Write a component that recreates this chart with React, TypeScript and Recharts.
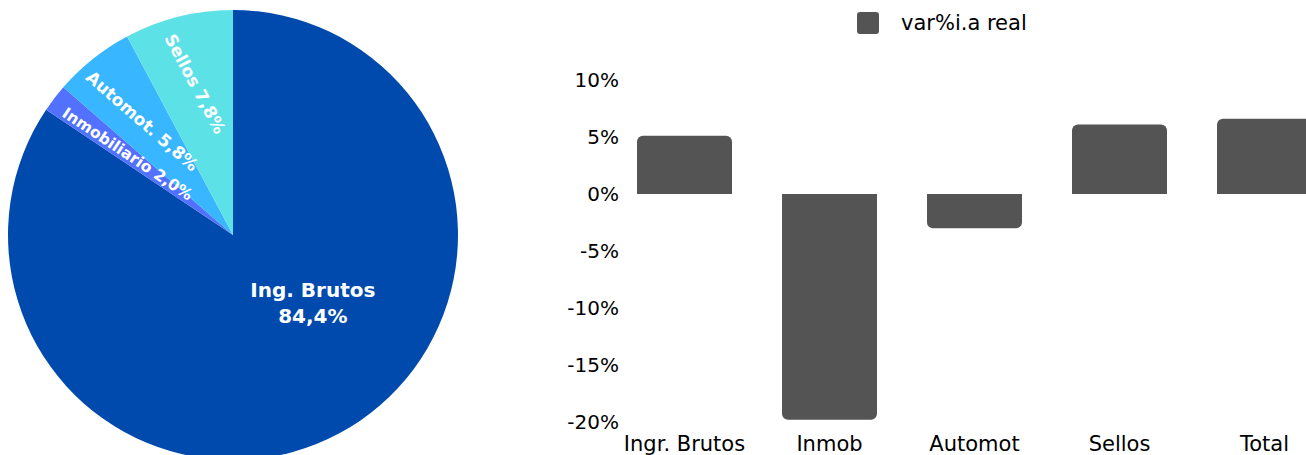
import React from 'react';
import { PieChart, Pie, Cell, BarChart, Bar, XAxis, YAxis, Legend } from 'recharts';

const pieNames = ['Ing. Brutos', 'Inmobiliario', 'Automot.', 'Sellos'];
const pieShares = [84.4, 2.0, 5.8, 7.8];
const pieColors = ['#004aad', '#5271ff', '#38b6ff', '#5ce1e6'];

const categories = ['Ingr. Brutos', 'Inmob', 'Automot', 'Sellos', 'Total'];
const varReal = [5.1, -19.8, -3.0, 6.1, 6.6];
const yTicks = [-20, -15, -10, -5, 0, 5, 10];

const pieData = pieNames.map((name, i) => ({ name, value: pieShares[i] }));
const barData = categories.map((name, i) => ({ name, value: varReal[i] }));

const FONT = '"DejaVu Sans", sans-serif';
const RAD = Math.PI / 180;

const fmtPct = (v: number) => v.toFixed(1).replace('.', ',') + '%';

const renderPieLabel = (props: any) => {
    const { cx, cy, outerRadius, midAngle, startAngle, index, name, value } = props;
    if (index === 0) {
        const x = cx + outerRadius * 0.355;
        const y = cy + outerRadius * 0.276;
        return (
            <text x={x} y={y} textAnchor="middle" fill="#fff" fontSize={20} fontWeight={700} fontFamily={FONT}>
                <tspan x={x} dy={0}>{name}</tspan>
                <tspan x={x} dy={26}>{fmtPct(value)}</tspan>
            </text>
        );
    }
    // thin slices: text runs from the rim toward the centre
    const label = `${name} ${fmtPct(value)}`;
    const fontSize = value < 3 ? 15.5 : 17;
    const estLen = fontSize * 0.6 * label.length;
    const r = outerRadius - 13 - estLen / 2;
    const x = cx + r * Math.cos(-midAngle * RAD);
    const y = cy + r * Math.sin(-midAngle * RAD);
    const rot = (((180 - startAngle) % 360) + 360) % 360;
    return (
        <text
            x={x}
            y={y}
            textAnchor="middle"
            dominantBaseline="central"
            transform={`rotate(${rot}, ${x}, ${y})`}
            fill="#fff"
            fontSize={fontSize}
            fontWeight={700}
            fontFamily={FONT}
        >
            {label}
        </text>
    );
};

const renderLegend = () => (
    <div style={{ display: 'flex', alignItems: 'center', fontFamily: FONT }}>
        <div style={{ width: 22, height: 22, background: '#545454', borderRadius: 3 }} />
        <span style={{ marginLeft: 22, fontSize: 21, color: '#000', lineHeight: '22px' }}>var%i.a real</span>
    </div>
);

const App: React.FC = () => {
    return (
        <div style={{ position: 'absolute', left: 0, top: 0, width: 1306, height: 455, overflow: 'hidden', background: '#fff', fontFamily: FONT }}>
            <div style={{ position: 'absolute', left: 0, top: 0 }}>
                <PieChart width={470} height={470}>
                    <Pie
                        data={pieData}
                        dataKey="value"
                        nameKey="name"
                        cx={228}
                        cy={230}
                        outerRadius={225}
                        startAngle={90}
                        endAngle={-270}
                        stroke="none"
                        label={renderPieLabel}
                        labelLine={false}
                        isAnimationActive={false}
                    >
                        {pieData.map((d, i) => (
                            <Cell key={d.name} fill={pieColors[i]} />
                        ))}
                    </Pie>
                </PieChart>
            </div>
            <div style={{ position: 'absolute', left: 540, top: 0 }}>
                <BarChart width={800} height={470} data={barData} margin={{ top: 80, right: 3, bottom: 18, left: 0 }}>
                    <XAxis
                        dataKey="name"
                        axisLine={false}
                        tickLine={false}
                        tickSize={0}
                        tickMargin={14}
                        height={30}
                        interval={0}
                        tick={{ fill: '#000', fontSize: 21, fontFamily: FONT }}
                    />
                    <YAxis
                        width={72}
                        domain={[-20, 10]}
                        ticks={yTicks}
                        tickFormatter={(v: number) => `${v}%`}
                        axisLine={false}
                        tickLine={false}
                        tickSize={0}
                        tickMargin={-7}
                        tick={{ fill: '#000', fontSize: 20, fontFamily: FONT }}
                    />
                    <Legend
                        layout="horizontal"
                        verticalAlign="middle"
                        align="center"
                        content={renderLegend}
                        wrapperStyle={{ top: 12, left: 317, width: 'auto' }}
                    />
                    <Bar dataKey="value" name="var%i.a real" fill="#545454" barSize={95} radius={[6, 6, 0, 0]} isAnimationActive={false} />
                </BarChart>
            </div>
        </div>
    );
};

export default App;
